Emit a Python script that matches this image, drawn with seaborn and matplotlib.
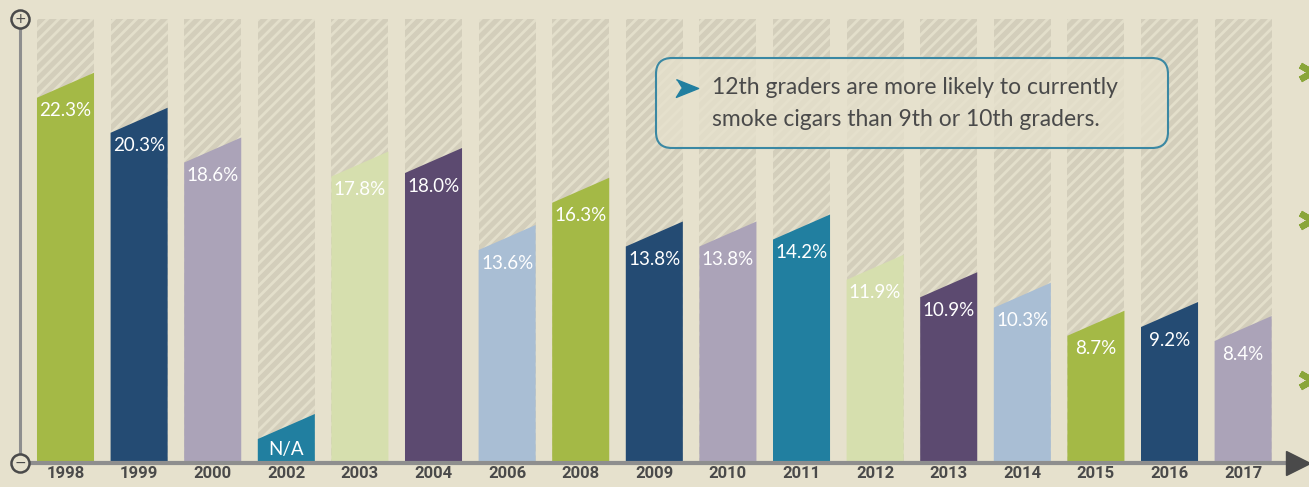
import numpy as np
import pandas as pd
import matplotlib.pyplot as plt
import seaborn as sns
from matplotlib.patches import Polygon, FancyBboxPatch

# data
years = ['1998', '1999', '2000', '2002', '2003', '2004', '2006', '2008', '2009',
         '2010', '2011', '2012', '2013', '2014', '2015', '2016', '2017']
rates = [22.3, 20.3, 18.6, None, 17.8, 18.0, 13.6, 16.3, 13.8,
         13.8, 14.2, 11.9, 10.9, 10.3, 8.7, 9.2, 8.4]
na_bar = 2.8  # placeholder height drawn for the missing year
palette7 = ['#a4b946', '#244b73', '#aba3b8', '#217fa0', '#d6dfae', '#5c4a70', '#a9bed4']
note = ['12th graders are more likely to currently',
        'smoke cigars than 9th or 10th graders.']

bg = '#e6e1cd'
dark = '#4a4a4a'
slant = 1.43
top = 25.37

df = pd.DataFrame({'year': years, 'rate': rates})
df['height'] = df['rate'].fillna(na_bar)
df['label'] = df['rate'].map(lambda v: 'N/A' if pd.isna(v) else f'{v:.1f}%')
colors = [palette7[i % 7] for i in range(len(df))]

sns.set_theme(style='white')
plt.rcParams['font.family'] = ['Lato', 'DejaVu Sans']
plt.rcParams['hatch.linewidth'] = 2.0

fig = plt.figure(figsize=(13.09, 4.87), dpi=100, facecolor=bg)
ax = fig.add_axes([0, 24 / 487, 1, 463 / 487])
ax.set_facecolor(bg)

# hatched background columns
sns.barplot(data=df.assign(full=top), x='year', y='full', color='#d3cebb',
            width=0.775, ax=ax, saturation=1)
for p in ax.patches:
    p.set_hatch('///')
    p.set_edgecolor('#e3dfcb')
    p.set_linewidth(0)
n_bg = len(ax.patches)

# coloured columns with slanted tops
sns.barplot(data=df, x='year', y='height', hue='year', palette=colors,
            width=0.775, ax=ax, saturation=1, legend=False)
for p in list(ax.patches[n_bg:]):
    x, w, h = p.get_x(), p.get_width(), p.get_height()
    if h <= 0:
        continue
    poly = Polygon([(x, 0), (x, h - slant), (x + w, h), (x + w, 0)],
                   closed=True, facecolor=p.get_facecolor(), edgecolor='none', zorder=3)
    ax.add_patch(poly)
    p.set_visible(False)

for i, row in df.iterrows():
    y = row['height'] - slant - 0.75 if row['label'] != 'N/A' else 0.8
    ax.text(i, y, row['label'], ha='center', va='center', color='white',
            fontsize=13.5, zorder=4)

x_left, x_right = -0.618, 16.64
ax.set_xlim(-0.89, 16.895)
ax.set_ylim(0, 463 / 17.5)

# axes lines
ax.plot([x_left, x_left], [0, top], color='#8e8e8e', lw=2.2, zorder=5, clip_on=False)
ax.plot([x_left, x_right], [0, 0], color='#8e8e8e', lw=3, zorder=5, clip_on=False)
ax.plot([16.74], [0], marker='>', ms=17, color=dark, zorder=6, clip_on=False)
for yy, sym in [(top, '+'), (0, '\u2212')]:
    ax.plot([x_left], [yy], marker='o', ms=13, mfc=bg, mec=dark, mew=1.8,
            zorder=6, clip_on=False)
    ax.text(x_left, yy, sym, ha='center', va='center', fontsize=10, color=dark,
            family='DejaVu Sans', zorder=7)

ax.tick_params(axis='x', length=0, pad=2)
ax.set_xticks(range(len(years)))
ax.set_xticklabels(years, fontsize=12, fontweight='bold', color=dark, family='Roboto')
ax.set_yticks([])
ax.set_xlabel('')
ax.set_ylabel('')
sns.despine(ax=ax, left=True, bottom=True)

# callout box
tr = fig.dpi_scale_trans
box = FancyBboxPatch((6.56, 3.39), 5.12, 0.90, boxstyle='round,pad=0,rounding_size=0.16',
                     transform=tr, facecolor=bg, alpha=0.75, edgecolor='none', zorder=8)
fig.patches.append(box)
edge = FancyBboxPatch((6.56, 3.39), 5.12, 0.90, boxstyle='round,pad=0,rounding_size=0.16',
                      transform=tr, facecolor='none', edgecolor='#3a88a3', lw=1.5, zorder=9)
fig.patches.append(edge)
arrow = [(-1, 0.8), (1, 0), (-1, -0.8), (-0.5, 0)]
fig.lines.append(plt.Line2D([6.87], [3.99], marker=arrow, ms=16, color='#217fa0',
                            transform=tr, zorder=10))
fig.text(7.12, 3.99, note[0], transform=tr, fontsize=16.5, color=dark, va='center', zorder=10)
fig.text(7.12, 3.67, note[1], transform=tr, fontsize=16.5, color=dark, va='center', zorder=10)

# green marks on right edge
for yy in [0.72, 2.20, 3.80]:
    fig.lines.append(plt.Line2D([13.12], [4.87 - yy], marker=(6, 2, 0), ms=20, mew=4.5,
                                color='#8aa63a', transform=tr, solid_capstyle='round'))

fig.savefig('out.png', dpi=100, facecolor=bg)
